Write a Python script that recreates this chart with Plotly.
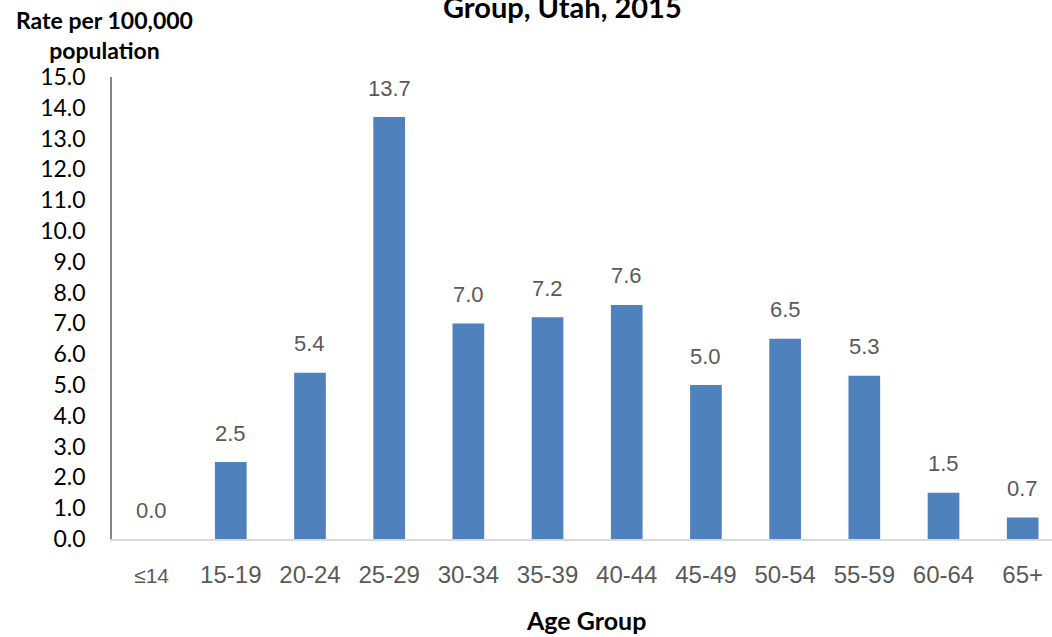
import plotly.graph_objects as go

categories = ["≤14", "15-19", "20-24", "25-29", "30-34", "35-39", "40-44",
              "45-49", "50-54", "55-59", "60-64", "65+"]
rates = [0.0, 2.5, 5.4, 13.7, 7.0, 7.2, 7.6, 5.0, 6.5, 5.3, 1.5, 0.7]
y_ticks = [0, 1, 2, 3, 4, 5, 6, 7, 8, 9, 10, 11, 12, 13, 14, 15]

x_pos = list(range(len(categories)))
tick_text = [("<span style='font-size:21px'>%s</span>" % c) if c == "≤14" else c
             for c in categories]

fig = go.Figure()
fig.add_trace(go.Bar(
    x=x_pos, y=rates, width=0.4,
    marker=dict(color="#4F81BD", line=dict(width=0)),
    hoverinfo="skip",
))

for xi, v in zip(x_pos, rates):
    fig.add_annotation(x=xi, y=v, text=f"{v:.1f}", showarrow=False,
                       yanchor="middle", yshift=29,
                       font=dict(family="Liberation Sans, Arial", size=22, color="#595959"))

# title (only the visible part of the original)
fig.add_annotation(xref="paper", yref="paper", x=(562 - 112) / 940, y=(539 - 6) / 462,
                   text="<b>Group, Utah, 2015</b>", showarrow=False,
                   xanchor="center", yanchor="middle",
                   font=dict(family="Lato", size=29, color="#000000"))
# y-axis title
fig.add_annotation(xref="paper", yref="paper", x=(104 - 112) / 940, y=(539 - 35) / 462,
                   text="<b>Rate per 100,000</b><br><b>population</b>", showarrow=False,
                   xanchor="center", yanchor="middle", align="center",
                   font=dict(family="Lato", size=23, color="#000000"))
# x-axis title
fig.add_annotation(xref="paper", yref="paper", x=(586 - 112) / 940, y=-(620 - 539) / 462,
                   text="<b>Age Group</b>", showarrow=False,
                   xanchor="center", yanchor="middle",
                   font=dict(family="Lato", size=25, color="#000000"))

fig.update_layout(
    width=1052, height=637,
    margin=dict(l=112, r=0, t=77, b=98),
    paper_bgcolor="white", plot_bgcolor="white",
    showlegend=False,
    xaxis=dict(
        tickmode="array", tickvals=x_pos, ticktext=tick_text,
        range=[-0.5, 11.37], showgrid=False, zeroline=False,
        showline=True, linecolor="#D9D9D9", linewidth=2,
        ticks="", ticklabelstandoff=13,
        tickfont=dict(family="Liberation Sans, Arial", size=24, color="#595959"),
    ),
    yaxis=dict(
        range=[0, 15], tickmode="array", tickvals=y_ticks,
        ticktext=[f"{t:.1f}" for t in y_ticks],
        showgrid=False, zeroline=False,
        showline=True, linecolor="#868686", linewidth=1.5,
        ticks="", ticklabelstandoff=20,
        tickfont=dict(family="Lato", size=23, color="#000000"),
    ),
)

fig.write_html("out.html", config={"displayModeBar": False},
               post_script="document.body.style.margin='0';document.body.style.overflow='hidden';")
